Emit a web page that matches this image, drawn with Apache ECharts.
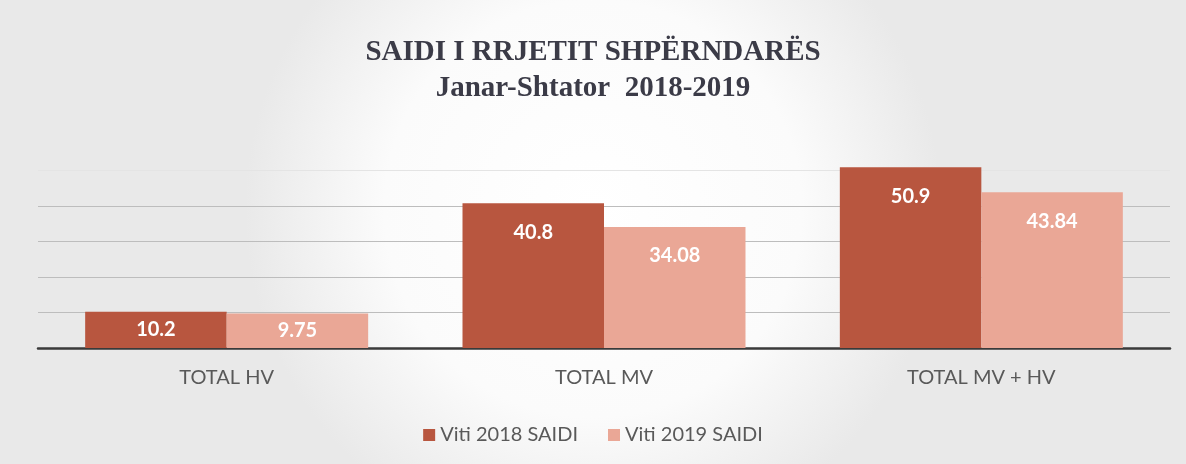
<!DOCTYPE html>
<html>
<head>
<meta charset="utf-8">
<script src="https://cdn.jsdelivr.net/npm/echarts@6/dist/echarts.min.js"></script>
<style>
html,body{margin:0;padding:0;background:#f4f4f4;}
#chart{width:1186px;height:464px;}
</style>
</head>
<body>
<div id="chart"></div>
<script>
const titleText = 'SAIDI I RRJETIT SHPËRNDARËS';
const subtitleText = 'Janar-Shtator  2018-2019';
const categories = ['TOTAL HV', 'TOTAL MV', 'TOTAL MV + HV'];
const seriesNames = ['Viti 2018 SAIDI', 'Viti 2019 SAIDI'];
const values2018 = [10.2, 40.8, 50.9];
const values2019 = [9.75, 34.08, 43.84];

// short bars: label centred inside (as in the reference)
function withLabels(vals) {
  return vals.map(function (v) {
    return v < 15 ? {value: v, label: {position: 'inside'}} : v;
  });
}

const labelStyle = {show: true, position: 'insideTop', distance: 19, color: '#ffffff',
  fontFamily: 'Lato', fontWeight: 'bold', fontSize: 20};

const chart = echarts.init(document.getElementById('chart'));
chart.setOption({
  backgroundColor: {
    type: 'radial', x: 0.5, y: 0.45, r: 0.75,
    colorStops: [
      {offset: 0, color: '#ffffff'},
      {offset: 0.6, color: '#fbfbfb'},
      {offset: 1, color: '#e9e9e9'}
    ]
  },
  animation: false,
  title: {
    text: titleText + '\n' + subtitleText,
    left: 'center',
    top: 30,
    textStyle: {
      fontFamily: 'Liberation Serif',
      fontWeight: 'bold',
      fontSize: 29,
      color: '#3b3b47',
      lineHeight: 36
    }
  },
  legend: {
    data: seriesNames,
    bottom: 14,
    left: 'center',
    itemWidth: 12,
    itemHeight: 12,
    itemGap: 30,
    icon: 'rect',
    textStyle: {fontFamily: 'Lato', fontSize: 20, color: '#595959'}
  },
  grid: {left: 38, right: 16, top: 135, bottom: 116},
  xAxis: {
    type: 'category',
    data: categories,
    axisTick: {show: false},
    axisLine: {lineStyle: {color: '#3a3a3a', width: 2.5}},
    axisLabel: {fontFamily: 'Lato', fontSize: 20, color: '#595959', margin: 20}
  },
  yAxis: {
    type: 'value',
    min: 0, max: 60, interval: 10,
    axisLabel: {show: false},
    axisLine: {show: false},
    axisTick: {show: false},
    splitLine: {lineStyle: {color: ['#cfcfcf','#bdbdbd','#bdbdbd','#bdbdbd','#bdbdbd','#e4e4e4','rgba(0,0,0,0)'], width: 1.2}}
  },
  series: [
    {
      name: seriesNames[0], type: 'bar', data: withLabels(values2018),
      barGap: '0%', barCategoryGap: '25%',
      itemStyle: {color: '#b8563f'},
      label: labelStyle
    },
    {
      name: seriesNames[1], type: 'bar', data: withLabels(values2019),
      barGap: '0%', barCategoryGap: '25%',
      itemStyle: {color: '#eaa796'},
      label: labelStyle
    }
  ]
});
</script>
</body>
</html>
